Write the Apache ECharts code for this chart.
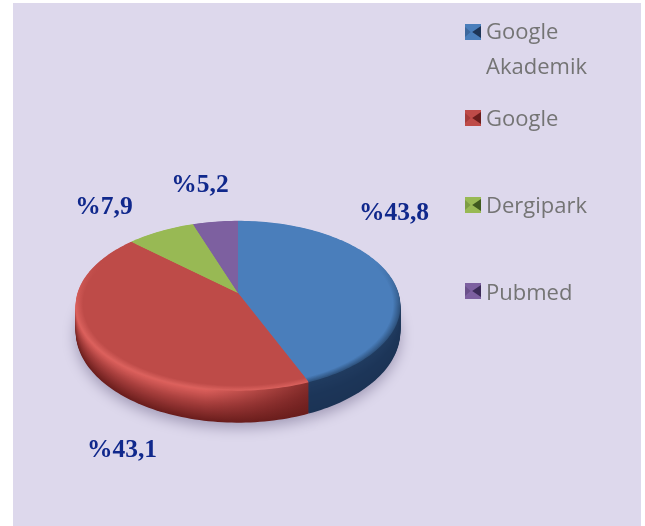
<!DOCTYPE html>
<html>
<head>
<meta charset="utf-8">
<style>
  html, body { margin: 0; padding: 0; background: #fff; }
  #main { width: 645px; height: 526px; }
</style>
<script src="https://cdn.jsdelivr.net/npm/echarts@6/dist/echarts.min.js"></script>
</head>
<body>
<div id="main"></div>
<script>
const categories = ["Google\nAkademik", "Google", "Dergipark", "Pubmed"];
const values = [43.8, 43.1, 7.9, 5.2];
const valueLabels = ["%43,8", "%43,1", "%7,9", "%5,2"];
const faceColors = ["#4A7EBB", "#BE4B48", "#98B954", "#7D60A0"];
const edgeColors = ["#2F5480", "#D9605C", "#98B954", "#7D60A0"];
const rimColors = [
  ["#2F5480", "#203C62", "#1B3355"],
  ["#E0625E", "#A83F3D", "#6A1D1C"],
  ["#7C9A42", "#5F7A30", "#4A6024"],
  ["#64498A", "#4E3870", "#3C2B58"]
];
const iconDark = ["#1D3557", "#6A1D1C", "#3F5A1E", "#3C2B58"];

// label anchor points, same order as categories
const labelX = [394, 122, 104, 200];
const labelY = [213, 450, 207, 185];
const legendTop = [10, 97, 184, 271];
const iconTop = [24, 110, 197, 283];

// pie geometry (tilted disc)
const pieX = 238;
const pieY = 293;
const radiusX = 160.5;
const scaleY = 83;
const tilt = -0.15;
const depth = 32;
const total = values.reduce(function (a, b) { return a + b; }, 0);

function project(angle, shrink, dy) {
  const u = Math.sin(angle) * shrink;
  const v = -Math.cos(angle) * shrink;
  const w = 1 + tilt * v;
  // rim looks a bit shallower at the sides than at the front
  const drop = dy * (0.76 + 0.24 * Math.max(v, 0));
  return [pieX + radiusX * u / w, pieY + drop + scaleY * v / w];
}

function slicePoints(start, end, shrink, dy) {
  const pts = [project(0, 0, dy)];
  const n = Math.max(2, Math.ceil((end - start) * 40));
  for (let i = 0; i <= n; i++) {
    pts.push(project(start + (end - start) * i / n, shrink, dy));
  }
  return pts;
}

function mix(a, b, t) {
  const pa = parseInt(a.slice(1), 16), pb = parseInt(b.slice(1), 16);
  const ch = function (s) {
    const n = Math.round(((pa >> s) & 255) * (1 - t) + ((pb >> s) & 255) * t);
    return (n < 16 ? "0" : "") + n.toString(16);
  };
  return "#" + ch(16) + ch(8) + ch(0);
}

function rimColor(stops, t) {
  // t: 0 at the top edge of the rim, 1 at the bottom
  if (t < 0.45) return mix(stops[0], stops[1], t / 0.45);
  return mix(stops[1], stops[2], (t - 0.45) / 0.55);
}

function rimFill(idx, t) {
  const c = rimColor(rimColors[idx], t);
  return {
    type: "linear", global: true,
    x: pieX - radiusX, y: 0, x2: pieX + radiusX, y2: 0,
    colorStops: [
      { offset: 0, color: c },
      { offset: 0.4, color: c },
      { offset: 0.72, color: mix(c, rimColors[idx][2], 0.75) },
      { offset: 1, color: mix(c, rimColors[idx][2], 0.75) }
    ]
  };
}

// the bevel only shows on the front half of the disc
function bevelFill(idx, t) {
  return {
    type: "linear", global: true,
    x: 0, y: pieY - 30, x2: 0, y2: pieY + 15,
    colorStops: [
      { offset: 0, color: faceColors[idx] },
      { offset: 1, color: mix(edgeColors[idx], faceColors[idx], t) }
    ]
  };
}

function makeRender(idx) {
  return function (params, api) {
    const before = values.slice(0, idx).reduce(function (a, b) { return a + b; }, 0);
    const start = before / total * Math.PI * 2;
    const end = start + api.value(0) / total * Math.PI * 2;
    const children = [];
    // rim layers, from the bottom up
    for (let d = depth; d > 0; d--) {
      const layer = {
        type: "polygon",
        z2: depth - d,
        shape: { points: slicePoints(start, end, 1, d) },
        style: { fill: rimFill(idx, d / depth) },
        silent: true
      };
      if (d === depth) {
        layer.style.shadowBlur = 14;
        layer.style.shadowOffsetY = 5;
        layer.style.shadowColor = "rgba(70,60,100,0.4)";
      }
      children.push(layer);
    }
    // soft bevel on the face edge
    const steps = 8;
    for (let s = 0; s < steps; s++) {
      children.push({
        type: "polygon",
        z2: 100 + s,
        shape: { points: slicePoints(start, end, 1 - s * 0.006, 0) },
        style: { fill: bevelFill(idx, s / (steps - 1)) },
        silent: true
      });
    }
    // value label
    children.push({
      type: "text",
      z2: 200,
      style: {
        text: valueLabels[idx],
        x: labelX[idx],
        y: labelY[idx],
        align: "center",
        verticalAlign: "middle",
        fontFamily: "Liberation Serif",
        fontWeight: "bold",
        fontSize: 25.5,
        fill: "#10288C"
      }
    });
    // bevelled legend marker: light square with a dark pinch from the right
    const ix = 465, iy = iconTop[idx], is = 16;
    children.push({
      type: "rect",
      z2: 200,
      shape: { x: ix, y: iy, width: is, height: is },
      style: { fill: faceColors[idx] },
      silent: true
    });
    children.push({
      type: "polygon",
      z2: 201,
      shape: { points: [[ix + is, iy + 2], [ix + is, iy + is - 2], [ix + is * 0.45, iy + is / 2]] },
      style: { fill: iconDark[idx] },
      silent: true
    });
    children.push({
      type: "polygon",
      z2: 201,
      shape: { points: [[ix, iy + 3], [ix, iy + is - 3], [ix + is * 0.35, iy + is / 2]] },
      style: { fill: mix(iconDark[idx], faceColors[idx], 0.7) },
      silent: true
    });
    return { type: "group", children: children };
  };
}

const chart = echarts.init(document.getElementById("main"));
chart.setOption({
  animation: false,
  backgroundColor: "#fff",
  graphic: [{
    type: "rect",
    z: -10,
    silent: true,
    shape: { x: 13, y: 3, width: 628, height: 523 },
    style: { fill: "#DDD8EC" }
  }],
  legend: categories.map(function (name, i) {
    return {
      data: [name],
      orient: "vertical",
      left: 465,
      top: legendTop[i],
      itemWidth: 16,
      itemHeight: 16,
      itemGap: 0,
      selectedMode: false,
      icon: "none",
      textStyle: {
        fontFamily: "Open Sans",
        fontSize: 22,
        lineHeight: 35,
        color: "#747474",
        padding: [0, 0, 0, -5]
      }
    };
  }),
  series: categories.map(function (name, i) {
    return {
      type: "custom",
      name: name,
      coordinateSystem: "none",
      renderItem: makeRender(i),
      itemStyle: { color: faceColors[i] },
      data: [values[i]]
    };
  })
});
</script>
</body>
</html>
